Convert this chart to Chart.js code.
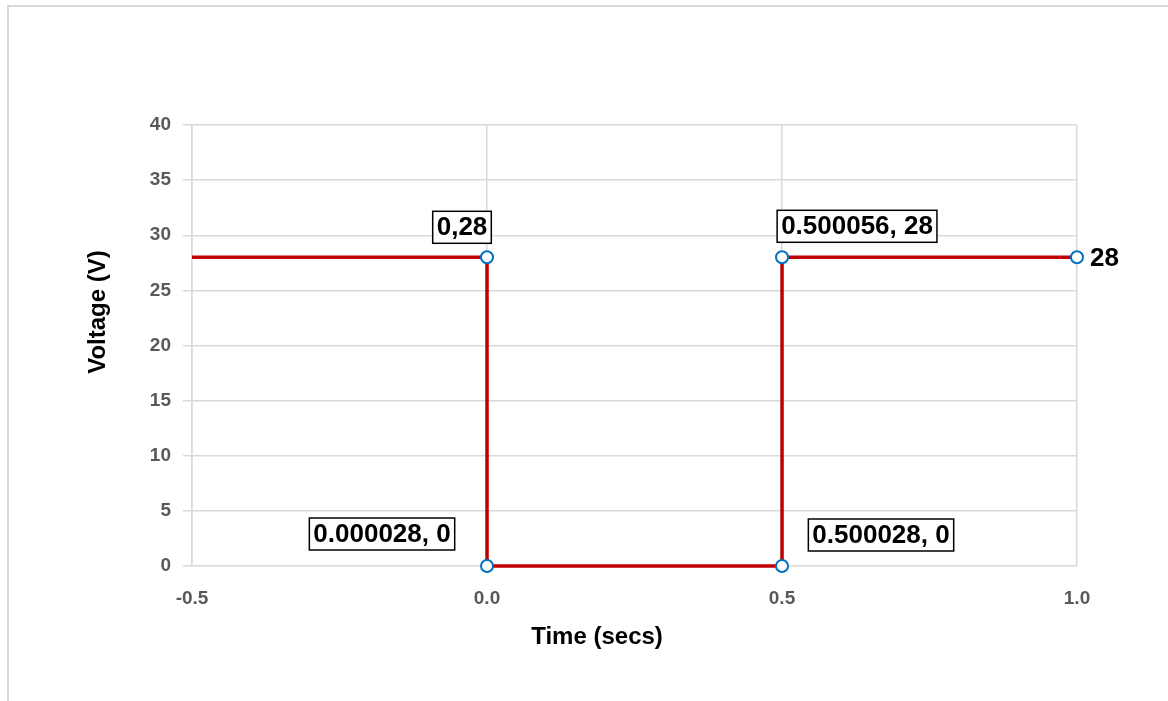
<!DOCTYPE html>
<html>
<head>
<meta charset="utf-8">
<script src="https://cdn.jsdelivr.net/npm/chart.js@4"></script>
<style>
  html, body { margin: 0; padding: 0; background: #fff; overflow: hidden; }
  #frame {
    position: absolute; left: 7px; top: 5px; width: 1200px; height: 760px;
    border-left: 2px solid #d9d9d9; border-top: 2px solid #d9d9d9;
  }
  #wrap { position: absolute; left: 0; top: 0; width: 1168px; height: 701px; }
</style>
</head>
<body>
<div id="frame"></div>
<div id="wrap"><canvas id="chart" width="1168" height="701"></canvas></div>
<script>
// Square pulse data (time in secs, voltage in V)
const timeValues = [-0.5, 0, 0.000028, 0.500028, 0.500056, 1.0];
const voltValues = [28, 28, 0, 0, 28, 28];
const pointLabels = ['', '0,28', '0.000028, 0', '0.500028, 0', '0.500056, 28', '28'];
const showMarker = [false, true, true, true, true, true];

// label placement relative to the point: [dx, dy, align, boxed]
const labelPlacement = [
  null,
  [-25, -30, 'center', true],
  [-105, -32, 'center', true],
  [99, -31, 'center', true],
  [75, -31, 'center', true],
  [13, 1, 'left', false]
];

const FONT = '"Liberation Sans", Arial, sans-serif';

const pointLabelPlugin = {
  id: 'pointLabels',
  afterDatasetsDraw(chart) {
    const ctx = chart.ctx;
    const meta = chart.getDatasetMeta(0);
    ctx.save();
    ctx.font = 'bold 26px ' + FONT;
    ctx.textBaseline = 'middle';
    meta.data.forEach((pt, i) => {
      const place = labelPlacement[i];
      if (!place || !pointLabels[i]) return;
      const [dx, dy, align, boxed] = place;
      const text = pointLabels[i];
      const w = ctx.measureText(text).width;
      const cx = pt.x + dx, cy = pt.y + dy;
      if (boxed) {
        const bw = w + 8, bh = 32;
        ctx.fillStyle = '#fff';
        ctx.fillRect(cx - bw / 2, cy - bh / 2, bw, bh);
        ctx.strokeStyle = '#000';
        ctx.lineWidth = 1.5;
        ctx.strokeRect(cx - bw / 2, cy - bh / 2, bw, bh);
      }
      ctx.fillStyle = '#000';
      ctx.textAlign = align;
      ctx.fillText(text, cx, cy + 1);
    });
    ctx.restore();
  }
};

const axisTitlePlugin = {
  id: 'axisTitles',
  afterDraw(chart) {
    const ctx = chart.ctx;
    ctx.save();
    ctx.fillStyle = '#000';
    ctx.font = 'bold 24px ' + FONT;
    ctx.textAlign = 'center';
    ctx.textBaseline = 'middle';
    ctx.fillText('Time (secs)', 597, 637);
    ctx.translate(98, 312);
    ctx.rotate(-Math.PI / 2);
    ctx.fillText('Voltage (V)', 0, 0);
    ctx.restore();
  }
};

new Chart(document.getElementById('chart').getContext('2d'), {
  type: 'scatter',
  data: {
    datasets: [{
      data: timeValues.map((t, i) => ({ x: t, y: voltValues[i] })),
      showLine: true,
      borderColor: '#C00000',
      borderWidth: 3.5,
      tension: 0,
      pointRadius: showMarker.map(m => m ? 6 : 0),
      pointBackgroundColor: '#ffffff',
      pointBorderColor: '#0070C0',
      pointBorderWidth: 2,
      clip: false
    }]
  },
  options: {
    responsive: false,
    animation: false,
    layout: { padding: { top: 125, right: 91, left: 0, bottom: 0 } },
    plugins: {
      legend: { display: false },
      tooltip: { enabled: false }
    },
    scales: {
      x: {
        type: 'linear',
        min: -0.5,
        max: 1.0,
        ticks: {
          stepSize: 0.5,
          color: '#595959',
          font: { family: FONT, size: 19, weight: 'bold' },
          padding: 21,
          callback: v => Number(v).toFixed(1)
        },
        grid: { color: '#d9d9d9', lineWidth: 1.5, drawTicks: false },
        border: { display: false },
        afterFit: s => { s.height = 135; }
      },
      y: {
        min: 0,
        max: 40,
        ticks: {
          stepSize: 5,
          color: '#595959',
          font: { family: FONT, size: 19, weight: 'bold' },
          padding: 12
        },
        grid: { color: '#d9d9d9', lineWidth: 1.5, tickLength: 9 },
        border: { color: '#d9d9d9', width: 1.5 },
        afterFit: s => { s.width = 192; }
      }
    }
  },
  plugins: [pointLabelPlugin, axisTitlePlugin]
});
</script>
</body>
</html>
